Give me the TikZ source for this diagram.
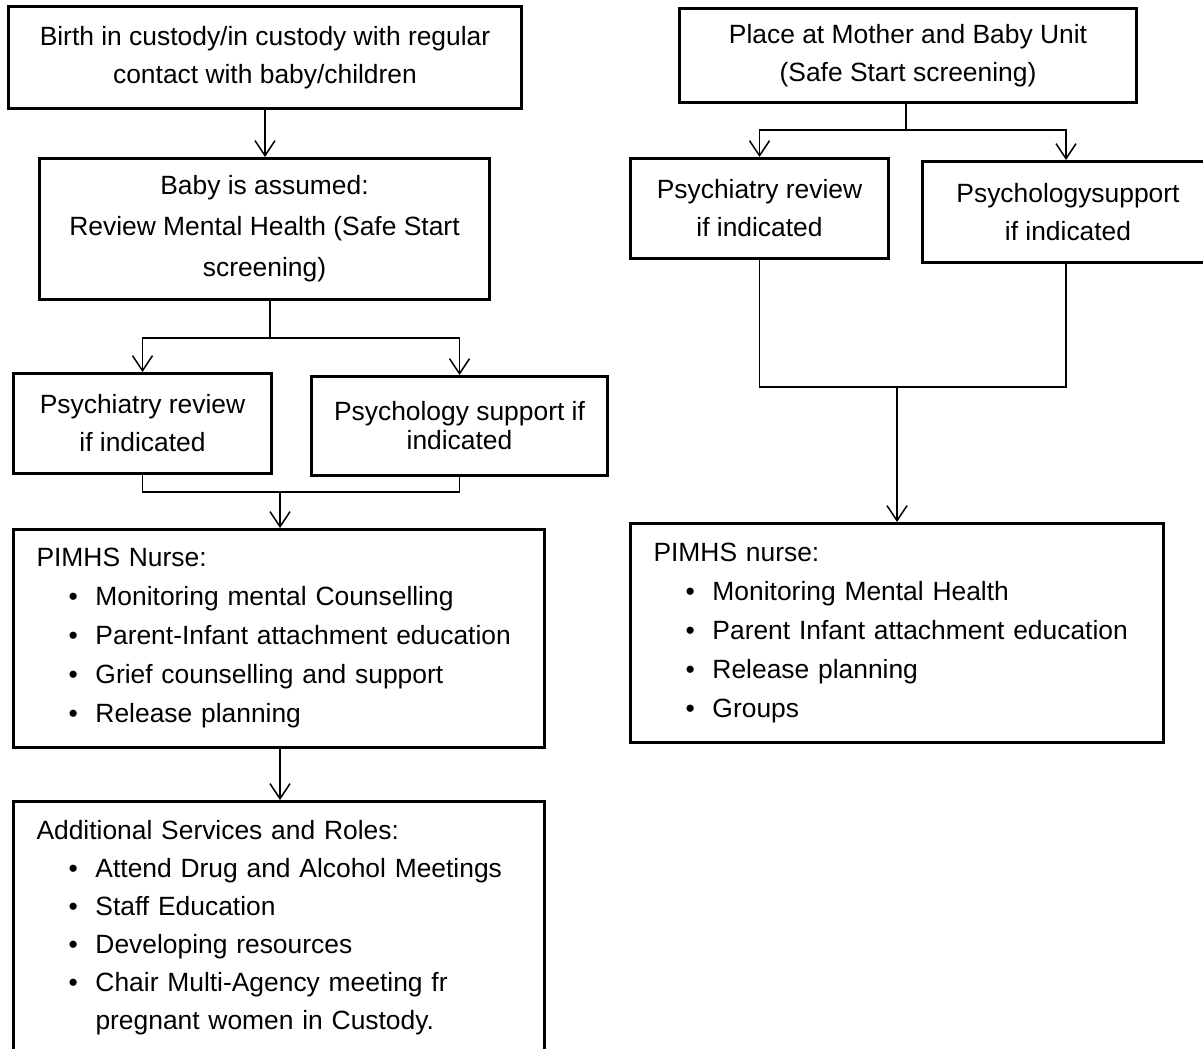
\documentclass[tikz,border=0pt]{standalone}
\usepackage{fontspec}
\setmainfont{Liberation Sans}
\usetikzlibrary{arrows.meta,positioning}
\tikzset{
	block/.style={
		rectangle,
		draw=black,
		line width=1.5pt,
		fill=white,
		align=center,
		inner sep=2pt,
		font=\fontsize{13.2}{19}\selectfont
	},
	listblock/.style={
		rectangle,
		draw=black,
		line width=1.5pt,
		fill=white,
		align=left,
		inner xsep=11.5pt,
		inner ysep=2pt,
		font=\fontsize{13.2}{19.5}\selectfont
	},
	link/.style={
		draw=black,
		line width=0.75pt
	},
	arrow/.style={
		draw=black,
		line width=0.75pt,
		->
	},
}
\newcommand{\itm}[1]{\hspace*{16pt}\makebox[13.5pt][l]{\textbullet}#1}

\begin{document}
\begin{tikzpicture}[x=0.5pt,y=-0.5pt,>={Straight Barb[length=7.5pt,width=10pt]}]
	\useasboundingbox (0,0) rectangle (1203,1048);
	\clip (0,0) rectangle (1203,1048);

	% left column
	\node [block,anchor=north west,minimum width=256.5pt,minimum height=51pt] (birth) at (7,5)
		{Birth in custody/in custody with regular\\contact with baby/children};
	\node [block,anchor=north west,minimum width=225pt,minimum height=70.5pt,font=\fontsize{13.2}{20.5}\selectfont] (assumed) at (38,157)
		{Baby is assumed:\\Review Mental Health (Safe Start\\screening)};
	\node [block,anchor=north west,minimum width=129pt,minimum height=50pt] (psychiatryL) at (12,372)
		{Psychiatry review\\if indicated};
	\node [block,anchor=north west,minimum width=148pt,minimum height=49.5pt,font=\fontsize{13.2}{14.5}\selectfont] (psychologyL) at (310,375)
		{Psychology support if\\indicated};
	\node [listblock,anchor=north west,text width=242.5pt,minimum height=109pt] (nurseL) at (12,528)
		{PIMHS Nurse:\\
		\itm{Monitoring mental Counselling}\\
		\itm{Parent-Infant attachment education}\\
		\itm{Grief counselling and support}\\
		\itm{Release planning}};
	\node [listblock,anchor=north west,text width=242.5pt,minimum height=126pt,font=\fontsize{13.2}{19}\selectfont] (extra) at (12,800)
		{Additional Services and Roles:\\
		\itm{Attend Drug and Alcohol Meetings}\\
		\itm{Staff Education}\\
		\itm{Developing resources}\\
		\itm{Chair Multi-Agency meeting fr}\\
		\hspace*{29.5pt}pregnant women in Custody.};

	% right column
	\node [block,anchor=north west,minimum width=228.5pt,minimum height=47pt] (unit) at (678,7)
		{Place at Mother and Baby Unit\\(Safe Start screening)};
	\node [block,anchor=north west,minimum width=129pt,minimum height=50pt] (psychiatryR) at (629,157)
		{Psychiatry review\\if indicated};
	\node [block,anchor=north west,minimum width=145.5pt,minimum height=50.5pt] (psychologyR) at (921,160)
		{Psychologysupport\\if indicated};
	\node [listblock,anchor=north west,text width=243.5pt,minimum height=109.5pt] (nurseR) at (629,522)
		{PIMHS nurse:\\
		\itm{Monitoring Mental Health}\\
		\itm{Parent Infant attachment education}\\
		\itm{Release planning}\\
		\itm{Groups}};

	% connectors, left
	\coordinate (splitL) at (270,338);
	\coordinate (joinL) at (280,492);
	\coordinate (splitR) at (906,130);
	\coordinate (joinR) at (897,387);

	\draw[arrow] (birth) -- (birth.south |- assumed.north);
	\draw[link] (assumed.south -| splitL) -- (splitL);
	\draw[arrow] (splitL) -| (psychiatryL.north);
	\draw[arrow] (splitL) -| (psychologyL.north);
	\draw[link] (psychiatryL.south) |- (joinL) -| (psychologyL.south);
	\draw[arrow] (joinL) -- (joinL |- nurseL.north);
	\draw[arrow] (joinL |- nurseL.south) -- (joinL |- extra.north);

	% connectors, right
	\draw[link] (unit.south -| splitR) -- (splitR);
	\draw[arrow] (splitR) -| (psychiatryR.north);
	\draw[arrow] (splitR) -| (psychologyR.north -| 1066,0);
	\draw[link] (psychiatryR.south) |- (joinR) -| (psychologyR.south -| 1066,0);
	\draw[arrow] (joinR) -- (joinR |- nurseR.north);
\end{tikzpicture}
\end{document}
